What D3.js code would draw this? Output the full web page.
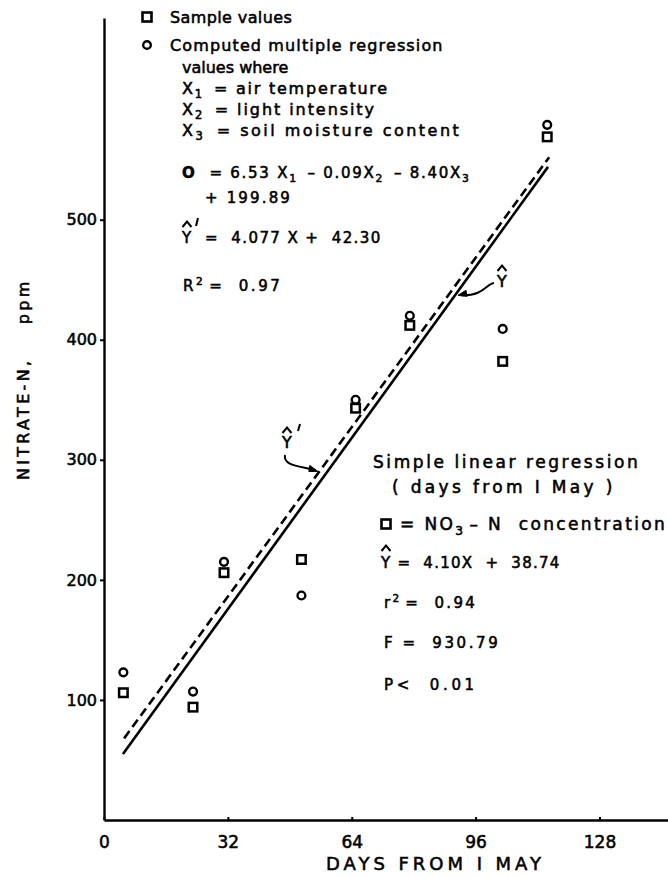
<!DOCTYPE html>
<html><head><meta charset="utf-8">
<script src="https://cdn.jsdelivr.net/npm/d3@7"></script>
<style>
html,body{margin:0;padding:0;background:#fff;}
svg text{font-family:"DejaVu Sans",sans-serif;fill:#000;stroke:#000;stroke-width:0.55px;}
</style></head>
<body>
<svg id="c" width="668" height="878"></svg>
<script>
// ---- data ----
const days      = [5, 23, 31, 51, 65, 79, 103, 114.5];
const sampleVal = [106, 94, 206, 217, 343, 412, 382, 569];
const computed  = [123, 107, 215, 187, 350, 420, 409, 579];
// regression lines as drawn (end points, days / ppm)
const simpleLineDays = [4.9, 114.7];
const simpleLineVals = [55, 544];
const multiLineDays  = [5.2, 115];
const multiLineVals  = [68, 552];
const xTicks = [0, 32, 64, 96, 128];
const yTicks = [100, 200, 300, 400, 500];

const svg = d3.select("#c");
const x = d3.scaleLinear().domain([0, 145.7]).range([104, 668]);
const y = d3.scaleLinear().domain([0, 668]).range([820, 18]);

// fit a text element to a target width by adjusting letter-spacing
function fit(t, w) {
  t.attr("letter-spacing", 0);
  const bw = t.node().getBBox().width;
  const n = t.text().length;
  if (n > 1) t.attr("letter-spacing", Math.max(0, (w - bw) / (n - 0.5)));
  return t;
}

// axes
const gy = svg.append("g").attr("transform", `translate(${x(0)},0)`)
  .call(d3.axisLeft(y).tickValues(yTicks).tickSize(4).tickSizeOuter(0).tickPadding(3));
gy.select(".domain").attr("stroke-width", 2.4);
gy.selectAll(".tick line").attr("stroke-width", 2);
gy.selectAll(".tick text").attr("font-size", 16).style("font-family", "DejaVu Sans");

const gx = svg.append("g").attr("transform", `translate(0,${y(0)})`)
  .call(d3.axisBottom(x).tickValues(xTicks).tickSize(3).tickSizeOuter(0).tickPadding(13));
gx.select(".domain").attr("stroke-width", 2.4);
gx.selectAll(".tick line").attr("stroke-width", 2).attr("y2", -3);
gx.selectAll(".tick text").attr("font-size", 17).style("font-family", "DejaVu Sans");

fit(svg.append("text").attr("x", 326).attr("y", 870).attr("font-size", 18).text("DAYS FROM I MAY"), 218);
const yl = svg.append("text").attr("transform", "translate(29,480) rotate(-90)")
  .attr("font-size", 16).attr("xml:space", "preserve").text("NITRATE-N,    ppm");
fit(yl, 200);

// lines
const line = d3.line().x(p => x(p[0])).y(p => y(p[1]));
svg.append("path").datum(d3.zip(simpleLineDays, simpleLineVals)).attr("d", line)
  .attr("fill", "none").attr("stroke", "#000").attr("stroke-width", 2.6);
svg.append("path").datum(d3.zip(multiLineDays, multiLineVals)).attr("d", line)
  .attr("fill", "none").attr("stroke", "#000").attr("stroke-width", 2.6).attr("stroke-dasharray", "9,5");

// markers
const sq = 8.5;
svg.append("g").selectAll("rect").data(d3.zip(days, sampleVal)).join("rect")
  .attr("x", d => x(d[0]) - sq/2).attr("y", d => y(d[1]) - sq/2)
  .attr("width", sq).attr("height", sq).attr("fill", "none").attr("stroke", "#000").attr("stroke-width", 2.5);
svg.append("g").selectAll("circle").data(d3.zip(days, computed)).join("circle")
  .attr("cx", d => x(d[0])).attr("cy", d => y(d[1])).attr("r", 3.9)
  .attr("fill", "none").attr("stroke", "#000").attr("stroke-width", 2.4);

// helper for rich text
function rich(xp, yp, parts, size, w) {
  const t = svg.append("text").attr("x", xp).attr("y", yp).attr("font-size", size)
    .attr("xml:space", "preserve");
  parts.forEach(p => {
    if (typeof p === "string") t.append("tspan").text(p);
    else if (p.bold) t.append("tspan").attr("font-weight", "bold").text(p.bold);
    else if (p.sub) { t.append("tspan").attr("font-size", size*0.72).attr("dy", size*0.28).text(p.sub);
                      t.append("tspan").attr("dy", -size*0.28).text("\u200A"); }
    else if (p.sup) { t.append("tspan").attr("font-size", size*0.7).attr("dy", -size*0.42).text(p.sup);
                      t.append("tspan").attr("dy", size*0.42).text("\u200A"); }
  });
  if (w) fit(t, w);
  return t;
}
function hatAt(cx, cy) {
  svg.append("path").attr("d", `M${cx-4.5},${cy+3}L${cx},${cy-2.5}L${cx+4.5},${cy+3}`)
    .attr("fill", "none").attr("stroke", "#000").attr("stroke-width", 2);
}
function sqIcon(cx, cy) {
  svg.append("rect").attr("x", cx-4.5).attr("y", cy-4.5).attr("width", 9).attr("height", 9)
    .attr("fill", "none").attr("stroke", "#000").attr("stroke-width", 2.6);
}
function circIcon(cx, cy) {
  svg.append("circle").attr("cx", cx).attr("cy", cy).attr("r", 3.8)
    .attr("fill", "none").attr("stroke", "#000").attr("stroke-width", 2.4);
}

// left legend block
const FS = 16;
sqIcon(147, 17);
rich(170, 23, ["Sample values"], FS, 122);
circIcon(147, 45);
rich(170, 51, ["Computed multiple regression"], FS, 273);
rich(182, 73, ["values where"], FS, 106);
rich(182, 94, ["X", {sub: "1"}, " = air temperature"], FS, 206);
rich(182, 115, ["X", {sub: "2"}, " = light intensity"], FS, 193);
rich(182, 136, ["X", {sub: "3"}, " = soil moisture content"], FS, 278);
rich(182, 178, [{bold: "O"}, "  = 6.53 X", {sub: "1"}, " – 0.09X", {sub: "2"}, " – 8.40X", {sub: "3"}], 15, 291);
rich(205, 203, ["+ 199.89"], 15, 86);
rich(182, 243, ["Y  =  4.077 X +  42.30"], 15, 200);
hatAt(187, 224);
svg.append("path").attr("d", "M198,218L196,226").attr("stroke", "#000").attr("stroke-width", 2);
rich(183, 291, ["R", {sup: "2"}, "=  0.97"], 15, 98);

// right block
rich(373, 468, ["Simple linear regression"], 17, 266);
rich(392, 493, ["( days from I May )"], 17, 222);
sqIcon(386, 524);
rich(400, 530, ["= NO", {sub: "3"}, "– N  concentration"], 17, 266);
rich(381, 568, ["Y =  4.10X  +  38.74"], 15, 180);
hatAt(386, 548);
rich(384, 608, ["r", {sup: "2"}, "=  0.94"], 15, 92);
rich(384, 648, ["F =  930.79"], 15, 115);
rich(384, 690, ["P<  0.01"], 15, 92);

// annotation Ŷ' with arrow to dashed line
const mlSlope = (multiLineVals[1]-multiLineVals[0])/(multiLineDays[1]-multiLineDays[0]);
const vA = 292, dA = multiLineDays[0] + (vA - multiLineVals[0]) / mlSlope;
const tipA = [x(dA) - 3, y(vA) + 2];
svg.append("text").attr("x", 282).attr("y", 448).attr("font-size", 16).text("Y");
hatAt(287, 430);
svg.append("path").attr("d", "M300,424L298,431").attr("stroke", "#000").attr("stroke-width", 2);
svg.append("path").attr("d", `M285,455 C283,466 300,466 ${tipA[0]-2},${tipA[1]-1}`)
  .attr("fill", "none").attr("stroke", "#000").attr("stroke-width", 2);
svg.append("path").attr("d", `M${tipA[0]},${tipA[1]} l-8,-6 l-1,6 z`).attr("fill", "#000").attr("stroke","#000").attr("stroke-width",1);

// annotation Ŷ with arrow to solid line
const slSlope = (simpleLineVals[1]-simpleLineVals[0])/(simpleLineDays[1]-simpleLineDays[0]);
const vB = 437, dB = simpleLineDays[0] + (vB - simpleLineVals[0]) / slSlope;
const tipB = [x(dB) + 3, y(vB)];
svg.append("text").attr("x", 497).attr("y", 287).attr("font-size", 16).text("Y");
hatAt(502, 268);
svg.append("path").attr("d", `M494,283 C486,284 484,296 ${tipB[0]+3},${tipB[1]}`)
  .attr("fill", "none").attr("stroke", "#000").attr("stroke-width", 2);
svg.append("path").attr("d", `M${tipB[0]},${tipB[1]} l8,-5 l1,6 z`).attr("fill", "#000").attr("stroke","#000").attr("stroke-width",1);
</script>
</body></html>
